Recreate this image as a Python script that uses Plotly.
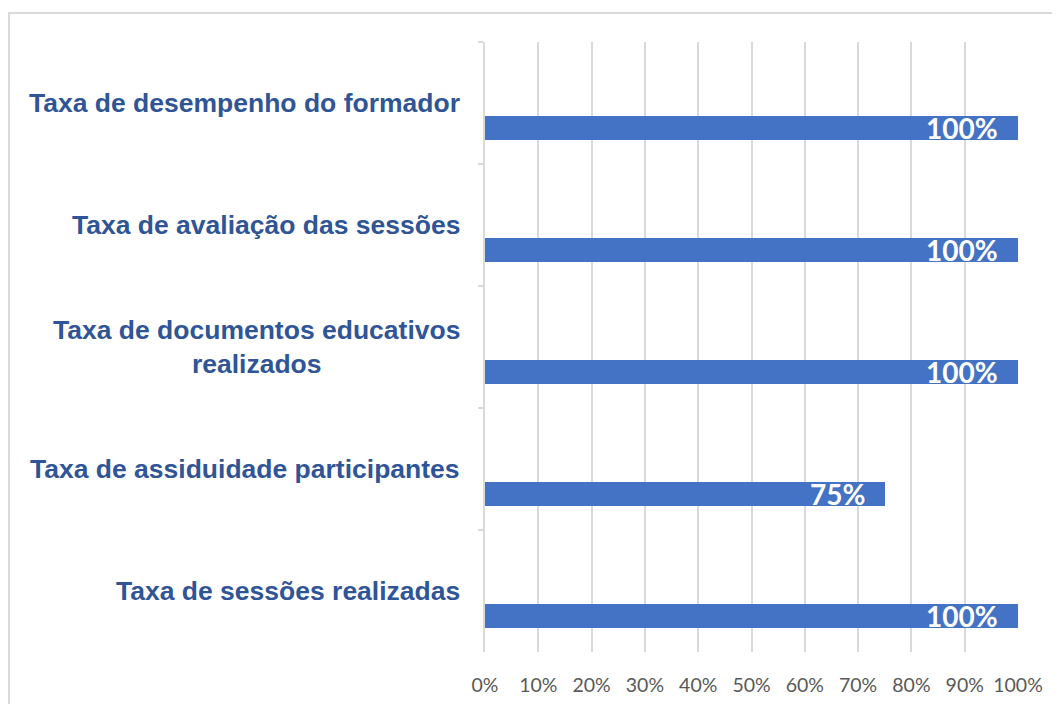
import plotly.graph_objects as go

categories = [
    "Taxa de desempenho do formador",
    "Taxa de avaliação das sessões",
    "Taxa de documentos educativos<br>realizados",
    "Taxa de assiduidade participantes",
    "Taxa de sessões realizadas",
]
values = [1.00, 1.00, 1.00, 0.75, 1.00]
value_labels = ["100%", "100%", "100%", "75%", "100%"]
tick_vals = [0, 0.1, 0.2, 0.3, 0.4, 0.5, 0.6, 0.7, 0.8, 0.9, 1.0]
tick_text = ["0%", "10%", "20%", "30%", "40%", "50%", "60%", "70%", "80%", "90%", "100%"]

BAR = "#4472C4"
LABEL = "#2F5597"
GRID = "#D9D9D9"

fig = go.Figure()
fig.add_trace(go.Bar(
    x=values, y=categories, orientation="h",
    marker=dict(color=BAR, line=dict(width=0)),
    width=0.197, offset=0.106,
    hoverinfo="skip",
))

annotations = []
for c in categories:
    annotations.append(dict(
        x=-0.043, xref="paper", y=c, yref="y",
        text=c, showarrow=False, xanchor="right", yanchor="middle",
        align="center",
        font=dict(family="Liberation Sans, Arial", size=26.5, color=LABEL, weight="bold"),
    ))
for c, v, t in zip(categories, values, value_labels):
    annotations.append(dict(
        x=v, xref="x", y=c, yref="y", yshift=-25, xshift=-18,
        text=t, showarrow=False, xanchor="right", yanchor="middle",
        font=dict(family="Lato, Open Sans", size=28, color="white", weight="bold"),
    ))

fig.update_layout(
    width=1052, height=696,
    margin=dict(l=477, r=42, t=34, b=52, autoexpand=False),
    paper_bgcolor="white", plot_bgcolor="white",
    showlegend=False,
    bargap=0,
    annotations=annotations,
    shapes=[dict(type="rect", xref="paper", yref="paper",
                 x0=-0.893, x1=1.2, y0=-0.2, y1=1.0475,
                 line=dict(color=GRID, width=2), fillcolor="rgba(0,0,0,0)", layer="below")],
    xaxis=dict(
        range=[0, 1], tickvals=tick_vals, ticktext=tick_text,
        showgrid=True, gridcolor=GRID, gridwidth=2,
        zeroline=False, showline=False, ticks="",
        ticklabelstandoff=19, automargin=False,
        tickfont=dict(family="Lato, Open Sans", size=19.5, color="#595959"),
        fixedrange=True,
    ),
    yaxis=dict(
        type="category", categoryorder="array", categoryarray=categories,
        range=[len(categories) - 0.5, -0.5],
        showticklabels=False, tickson="boundaries", automargin=False,
        ticks="outside", ticklen=5, tickcolor=GRID, tickwidth=2,
        showline=True, linecolor=GRID, linewidth=2,
        showgrid=False, zeroline=False, fixedrange=True,
    ),
)

fig.write_html("out.html")
